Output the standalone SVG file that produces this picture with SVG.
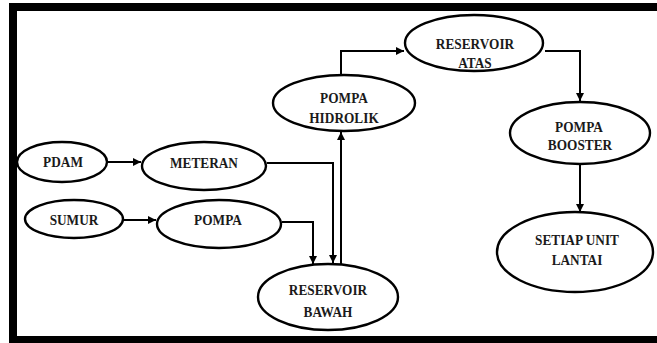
<svg xmlns="http://www.w3.org/2000/svg" width="657" height="343" viewBox="0 0 657 343">
<style>
  .node ellipse { fill: #fff; stroke: #000; stroke-width: 2.4; }
  .node text { font-family: "Liberation Serif", "Times New Roman", serif; font-weight: bold; font-size: 13.3px; fill: #1a1a1a; text-anchor: middle; }
  .conn path { fill: none; stroke: #000; stroke-width: 2; marker-end: url(#arr); }
  .frame rect { fill: #000; }
</style>
<defs>
  <marker id="arr" viewBox="0 0 10 10" refX="10" refY="5" markerWidth="4.5" markerHeight="4" markerUnits="strokeWidth" orient="auto">
    <path d="M0,0 L10,5 L0,10 z" fill="#000"/>
  </marker>
</defs>
<rect x="0" y="0" width="657" height="343" fill="#fff"/>
<g class="frame">
  <rect x="9" y="3" width="648" height="8"/>
  <rect x="9" y="3" width="8" height="340"/>
  <rect x="9" y="336" width="648" height="7"/>
</g>
<g class="conn">
  <path d="M108,162 H141"/>
  <path d="M123,220 H156"/>
  <path d="M267,163 H333 V263"/>
  <path d="M282,222 H313 V264"/>
  <path d="M341,264 V132"/>
  <path d="M341,75 V51 H404"/>
  <path d="M545,51 H580 V101"/>
  <path d="M580,165 V212"/>
</g>
<g id="pdam" class="node"><ellipse cx="62" cy="162" rx="45" ry="20"/><text transform="matrix(1,0,0,1.15,63,167)">PDAM</text></g>
<g id="meteran" class="node"><ellipse cx="204" cy="166" rx="62" ry="24"/><text transform="matrix(1,0,0,1.15,204,168)">METERAN</text></g>
<g id="sumur" class="node"><ellipse cx="74" cy="219" rx="49" ry="19"/><text transform="matrix(1,0,0,1.15,74,225)">SUMUR</text></g>
<g id="pompa" class="node"><ellipse cx="219" cy="224" rx="62" ry="24"/><text transform="matrix(1,0,0,1.15,218,225)">POMPA</text></g>
<g id="reservoir-bawah" class="node"><ellipse cx="328" cy="297" rx="70" ry="33"/><text transform="matrix(1,0,0,1.15,328,295)">RESERVOIR</text><text transform="matrix(1,0,0,1.15,328,317)">BAWAH</text></g>
<g id="pompa-hidrolik" class="node"><ellipse cx="344" cy="103" rx="71" ry="28"/><text transform="matrix(1,0,0,1.15,344,103)">POMPA</text><text transform="matrix(1,0,0,1.15,344,123)">HIDROLIK</text></g>
<g id="reservoir-atas" class="node"><ellipse cx="474" cy="43" rx="69" ry="28"/><text transform="matrix(1,0,0,1.15,475,49)">RESERVOIR</text><text transform="matrix(1,0,0,1.15,475,68)">ATAS</text></g>
<g id="pompa-booster" class="node"><ellipse cx="580" cy="133" rx="70" ry="31"/><text transform="matrix(1,0,0,1.15,579,132)">POMPA</text><text transform="matrix(1,0,0,1.15,580,150)">BOOSTER</text></g>
<g id="setiap-unit-lantai" class="node"><ellipse cx="575" cy="252" rx="78" ry="40"/><text transform="matrix(1,0,0,1.15,577,245)">SETIAP UNIT</text><text transform="matrix(1,0,0,1.15,577,265)">LANTAI</text></g>
</svg>
